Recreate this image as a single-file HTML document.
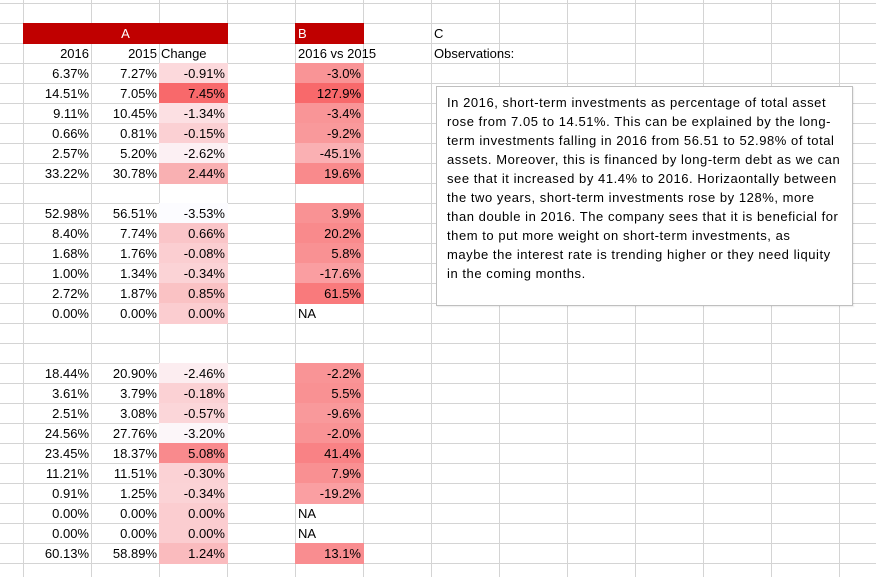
<!DOCTYPE html>
<html><head><meta charset="utf-8"><style>
*{margin:0;padding:0;box-sizing:border-box}
body{width:876px;height:577px;overflow:hidden;position:relative;background:#fff;font-family:"Liberation Sans",Arial,sans-serif;font-size:13px;color:#000}
.g{position:absolute;left:0;top:0;width:876px;height:577px;
background-image:linear-gradient(to right,#d4d4d4 1px,transparent 1px),linear-gradient(to bottom,#d4d4d4 1px,transparent 1px);
background-size:68px 20px;background-position:23px 3px}
.c{position:absolute;height:21px;line-height:21px;width:69px;text-align:right;padding-right:3px;white-space:nowrap}
.l{text-align:left;padding-left:3px}
.box{position:absolute;left:436px;top:86px;width:417px;height:220px;background:#fff;border:1px solid #bfbfbf;box-shadow:1px 1px 1px rgba(0,0,0,.08);padding:6px 0 0 10px;line-height:19px;font-size:13px;letter-spacing:0.55px;white-space:nowrap}
</style></head><body>
<div class="g"></div>
<div class="c" style="left:23px;top:23px;width:205px;background:#c00000;color:#fff;text-align:center;padding:0">A</div>
<div class="c l" style="left:295px;top:23px;background:#c00000;color:#fff">B</div>
<div class="c l" style="left:431px;top:23px">C</div>
<div class="c" style="left:23px;top:43px">2016</div>
<div class="c" style="left:91px;top:43px">2015</div>
<div class="c l" style="left:159px;top:43px;padding-left:2px">Change</div>
<div class="c l" style="left:295px;top:43px;width:120px">2016 vs 2015</div>
<div class="c l" style="left:431px;top:43px;width:120px">Observations:</div>

<div class="c" style="left:23px;top:63px">6.37%</div><div class="c" style="left:91px;top:63px">7.27%</div><div class="c" style="left:159px;top:63px;background:#fcd9dc">-0.91%</div><div class="c" style="left:295px;top:63px;background:#f99496">-3.0%</div>
<div class="c" style="left:23px;top:83px">14.51%</div><div class="c" style="left:91px;top:83px">7.05%</div><div class="c" style="left:159px;top:83px;background:#f8696b">7.45%</div><div class="c" style="left:295px;top:83px;background:#f8696b">127.9%</div>
<div class="c" style="left:23px;top:103px">9.11%</div><div class="c" style="left:91px;top:103px">10.45%</div><div class="c" style="left:159px;top:103px;background:#fce0e3">-1.34%</div><div class="c" style="left:295px;top:103px;background:#f99597">-3.4%</div>
<div class="c" style="left:23px;top:123px">0.66%</div><div class="c" style="left:91px;top:123px">0.81%</div><div class="c" style="left:159px;top:123px;background:#fbd0d3">-0.15%</div><div class="c" style="left:295px;top:123px;background:#f9999b">-9.2%</div>
<div class="c" style="left:23px;top:143px">2.57%</div><div class="c" style="left:91px;top:143px">5.20%</div><div class="c" style="left:159px;top:143px;background:#fcf0f3">-2.62%</div><div class="c" style="left:295px;top:143px;background:#fab0b3">-45.1%</div>
<div class="c" style="left:23px;top:163px">33.22%</div><div class="c" style="left:91px;top:163px">30.78%</div><div class="c" style="left:159px;top:163px;background:#f9b0b2">2.44%</div><div class="c" style="left:295px;top:163px;background:#f98a8c">19.6%</div>

<div class="c" style="left:23px;top:203px">52.98%</div><div class="c" style="left:91px;top:203px">56.51%</div><div class="c" style="left:159px;top:203px;background:#fcfcff">-3.53%</div><div class="c" style="left:295px;top:203px;background:#f99294">3.9%</div>
<div class="c" style="left:23px;top:223px">8.40%</div><div class="c" style="left:91px;top:223px">7.74%</div><div class="c" style="left:159px;top:223px;background:#fac5c8">0.66%</div><div class="c" style="left:295px;top:223px;background:#f98a8c">20.2%</div>
<div class="c" style="left:23px;top:243px">1.68%</div><div class="c" style="left:91px;top:243px">1.76%</div><div class="c" style="left:159px;top:243px;background:#fbced1">-0.08%</div><div class="c" style="left:295px;top:243px;background:#f99193">5.8%</div>
<div class="c" style="left:23px;top:263px">1.00%</div><div class="c" style="left:91px;top:263px">1.34%</div><div class="c" style="left:159px;top:263px;background:#fbd3d6">-0.34%</div><div class="c" style="left:295px;top:263px;background:#fa9ea1">-17.6%</div>
<div class="c" style="left:23px;top:283px">2.72%</div><div class="c" style="left:91px;top:283px">1.87%</div><div class="c" style="left:159px;top:283px;background:#fac2c4">0.85%</div><div class="c" style="left:295px;top:283px;background:#f97a7c">61.5%</div>
<div class="c" style="left:23px;top:303px">0.00%</div><div class="c" style="left:91px;top:303px">0.00%</div><div class="c" style="left:159px;top:303px;background:#fbcdd0">0.00%</div><div class="c l" style="left:295px;top:303px">NA</div>

<div class="c" style="left:23px;top:363px">18.44%</div><div class="c" style="left:91px;top:363px">20.90%</div><div class="c" style="left:159px;top:363px;background:#fcedf0">-2.46%</div><div class="c" style="left:295px;top:363px;background:#f99496">-2.2%</div>
<div class="c" style="left:23px;top:383px">3.61%</div><div class="c" style="left:91px;top:383px">3.79%</div><div class="c" style="left:159px;top:383px;background:#fbd1d4">-0.18%</div><div class="c" style="left:295px;top:383px;background:#f99193">5.5%</div>
<div class="c" style="left:23px;top:403px">2.51%</div><div class="c" style="left:91px;top:403px">3.08%</div><div class="c" style="left:159px;top:403px;background:#fbd6d9">-0.57%</div><div class="c" style="left:295px;top:403px;background:#f9999b">-9.6%</div>
<div class="c" style="left:23px;top:423px">24.56%</div><div class="c" style="left:91px;top:423px">27.76%</div><div class="c" style="left:159px;top:423px;background:#fcf6f9">-3.20%</div><div class="c" style="left:295px;top:423px;background:#f99395">-2.0%</div>
<div class="c" style="left:23px;top:443px">23.45%</div><div class="c" style="left:91px;top:443px">18.37%</div><div class="c" style="left:159px;top:443px;background:#f98a8d">5.08%</div><div class="c" style="left:295px;top:443px;background:#f98285">41.4%</div>
<div class="c" style="left:23px;top:463px">11.21%</div><div class="c" style="left:91px;top:463px">11.51%</div><div class="c" style="left:159px;top:463px;background:#fbd2d5">-0.30%</div><div class="c" style="left:295px;top:463px;background:#f99092">7.9%</div>
<div class="c" style="left:23px;top:483px">0.91%</div><div class="c" style="left:91px;top:483px">1.25%</div><div class="c" style="left:159px;top:483px;background:#fbd3d6">-0.34%</div><div class="c" style="left:295px;top:483px;background:#fa9fa2">-19.2%</div>
<div class="c" style="left:23px;top:503px">0.00%</div><div class="c" style="left:91px;top:503px">0.00%</div><div class="c" style="left:159px;top:503px;background:#fbcdd0">0.00%</div><div class="c l" style="left:295px;top:503px">NA</div>
<div class="c" style="left:23px;top:523px">0.00%</div><div class="c" style="left:91px;top:523px">0.00%</div><div class="c" style="left:159px;top:523px;background:#fbcdd0">0.00%</div><div class="c l" style="left:295px;top:523px">NA</div>
<div class="c" style="left:23px;top:543px">60.13%</div><div class="c" style="left:91px;top:543px">58.89%</div><div class="c" style="left:159px;top:543px;background:#fabbbe">1.24%</div><div class="c" style="left:295px;top:543px;background:#f98d90">13.1%</div>

<div class="box">In 2016, short-term investments as percentage of total asset<br>rose from 7.05 to 14.51%. This can be explained by the long-<br>term investments falling in 2016 from 56.51 to 52.98% of total<br>assets. Moreover, this is financed by long-term debt as we can<br>see that it increased by 41.4% to 2016. Horizaontally between<br>the two years, short-term investments rose by 128%, more<br>than double in 2016. The company sees that it is beneficial for<br>them to put more weight on short-term investments, as<br>maybe the interest rate is trending higher or they need liquity<br>in the coming months.</div>
</body></html>
